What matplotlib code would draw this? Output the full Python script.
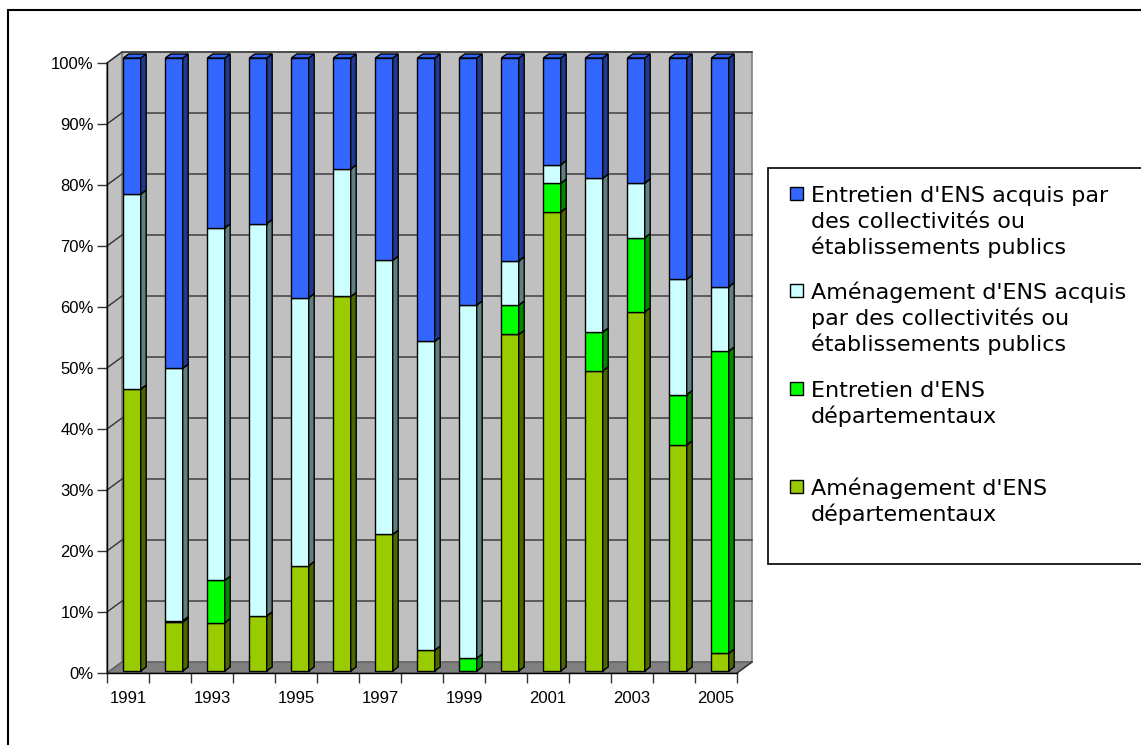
import matplotlib.pyplot as plt
import numpy as np
from matplotlib.patches import Polygon, Rectangle

# data (shares in %)
years = list(range(1991, 2006))
amenag_dep = [46.0, 8.0, 7.9, 9.0, 17.2, 61.1, 22.3, 3.4, 0.0, 54.9, 74.9, 49.0, 58.6, 36.9, 2.9]
entretien_dep = [0.0, 0.2, 6.9, 0.0, 0.0, 0.0, 0.0, 0.0, 2.1, 4.8, 4.7, 6.3, 12.1, 8.2, 49.3]
amenag_coll = [31.8, 41.2, 57.5, 64.0, 43.7, 20.8, 44.7, 50.4, 57.6, 7.2, 3.0, 25.1, 8.9, 18.8, 10.5]
entretien_coll = [22.2, 50.6, 27.7, 27.0, 39.1, 18.1, 33.0, 46.2, 40.3, 33.1, 17.4, 19.6, 20.4, 36.1, 37.3]

labels = [
    "Entretien d'ENS acquis par\ndes collectivités ou\nétablissements publics",
    "Aménagement d'ENS acquis\npar des collectivités ou\nétablissements publics",
    "Entretien d'ENS\ndépartementaux",
    "Aménagement d'ENS\ndépartementaux",
]
# stacking order bottom -> top
series = [amenag_dep, entretien_dep, amenag_coll, entretien_coll]
front_cols = ["#99CC00", "#00FF00", "#CCFFFF", "#3366FF"]
side_cols = ["#4C6600", "#008800", "#608080", "#1F3A93"]
legend_cols = ["#3366FF", "#CCFFFF", "#00FF00", "#99CC00"]

W, H = 1141, 745
fig = plt.figure(figsize=(W / 100, H / 100), dpi=100)
fig.patch.set_facecolor("white")

def fx(px):
    return px / W

def fy(py):
    return 1 - py / H

ax = fig.add_axes([fx(107), fy(673), 630 / W, 610 / H])
ax.set_xlim(-0.5, 14.5)
ax.set_ylim(0, 1)
ax.set_facecolor("none")
for s in ["top", "right"]:
    ax.spines[s].set_visible(False)
for s in ["left", "bottom"]:
    ax.spines[s].set_color("black")
    ax.spines[s].set_linewidth(1.0)
    ax.spines[s].set_zorder(30)

# fake 3d geometry (in data units)
wdx, wdy = 15 / 42, 11 / 610      # wall depth
bdx, bdy = 5.5 / 42, 4 / 610      # bar depth
bw = 17.4 / 42                    # bar front width
boff = -0.112                     # bar left edge relative to category
bbase = 2 / 610
zs = 613 / 610

# walls and floor
ax.add_patch(Rectangle((-0.5 + wdx, wdy), 15, 1, facecolor="#C0C0C0",
                       edgecolor="#808080", lw=1.2, clip_on=False, zorder=1))
ax.add_patch(Polygon([(-0.5, 0), (-0.5, 1), (-0.5 + wdx, 1 + wdy), (-0.5 + wdx, wdy)],
                     closed=True, facecolor="#C0C0C0", edgecolor="#808080", lw=1.2,
                     clip_on=False, zorder=1))
ax.add_patch(Polygon([(-0.5, 0), (14.5, 0), (14.5 + wdx, wdy), (-0.5 + wdx, wdy)],
                     closed=True, facecolor="#808080", edgecolor="#606060", lw=1.0,
                     clip_on=False, zorder=1))
for v in np.arange(0.1, 1.01, 0.1):
    ax.plot([-0.5, -0.5 + wdx, 14.5 + wdx], [v, v + wdy, v + wdy], color="#333333",
            lw=1.0, clip_on=False, zorder=2)
ax.plot([14.5, 14.5 + wdx], [0, wdy], color="#333333", lw=1.0, clip_on=False, zorder=2)

# bars
tot = np.sum(np.array(series), axis=0)
z = 5
for i in range(len(years)):
    bottom = bbase
    for k, ser in enumerate(series):
        h = ser[i] / tot[i] * zs
        if h <= 0:
            continue
        x0 = i + boff
        x1 = x0 + bw
        y0, y1 = bottom, bottom + h
        ax.add_patch(Rectangle((x0, y0), bw, h, facecolor=front_cols[k], edgecolor="black",
                               lw=1.0, clip_on=False, zorder=z))
        ax.add_patch(Polygon([(x1, y0), (x1 + bdx, y0 + bdy), (x1 + bdx, y1 + bdy), (x1, y1)],
                             closed=True, facecolor=side_cols[k], edgecolor="black", lw=1.0,
                             clip_on=False, zorder=z))
        ax.add_patch(Polygon([(x0, y1), (x1, y1), (x1 + bdx, y1 + bdy), (x0 + bdx, y1 + bdy)],
                             closed=True, facecolor=front_cols[k], edgecolor="black", lw=1.0,
                             clip_on=False, zorder=z))
        bottom = y1
        z += 1

# axes ticks
ax.set_yticks(np.arange(0, 1.01, 0.1))
ax.set_yticklabels([f"{int(round(v * 100))}%" for v in np.arange(0, 1.01, 0.1)])
ax.tick_params(axis="y", direction="out", length=7.5, width=1.0, pad=2,
               labelsize=12, color="#333333")
ax.set_xticks(np.arange(-0.5, 15, 1.0))
ax.set_xticklabels([])
ax.tick_params(axis="x", which="major", direction="out", length=7, width=1.0, color="#333333")
ax.set_xticks(np.arange(0, 15, 2), minor=True)
ax.set_xticklabels([str(y) for y in years[::2]], minor=True)
ax.tick_params(axis="x", which="minor", length=0, pad=13, labelsize=12)
for t in ax.get_xticklabels(minor=True) + ax.get_yticklabels():
    t.set_fontfamily("Liberation Sans")

# outer chart border
fig.add_artist(Rectangle((fx(8), fy(760)), fx(1160) - fx(8), fy(10) - fy(760),
                         transform=fig.transFigure, facecolor="none", edgecolor="black",
                         lw=1.5, clip_on=False))

# legend
fig.add_artist(Rectangle((fx(768), fy(564)), fx(1160) - fx(768), fy(168) - fy(564),
                         transform=fig.transFigure, facecolor="white", edgecolor="black",
                         lw=1.2, clip_on=False))
item_base = [202, 299, 397, 495]
for lab, col, yb in zip(labels, legend_cols, item_base):
    fig.add_artist(Rectangle((fx(790), fy(yb - 2)), 13 / W, 13 / H, transform=fig.transFigure,
                             facecolor=col, edgecolor="black", lw=1.0))
    for j, line in enumerate(lab.split("\n")):
        fig.text(fx(811), fy(yb + 26 * j), line, fontsize=16, family="DejaVu Sans",
                 va="baseline", ha="left", color="black")

fig.savefig("out.png", dpi=100)
